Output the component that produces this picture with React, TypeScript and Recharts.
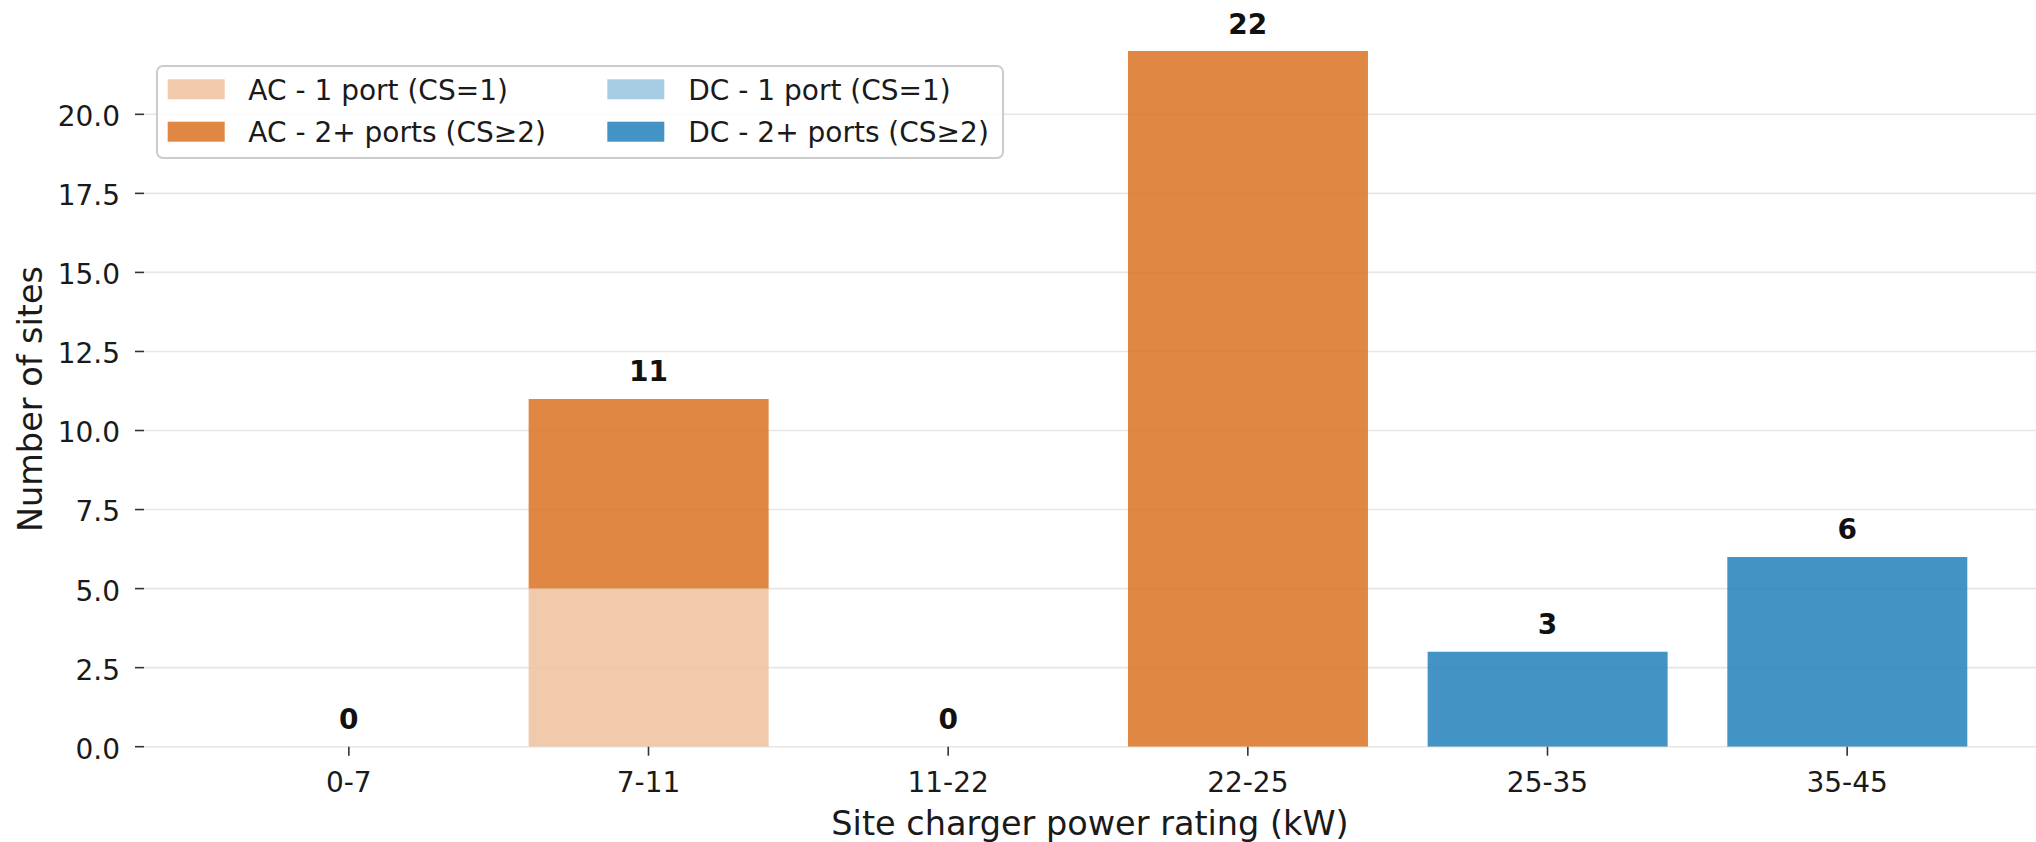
import { Bar, CartesianGrid, ComposedChart, LabelList, Legend, Line, XAxis, YAxis } from 'recharts'

const FONT = '"DejaVu Sans", Verdana, sans-serif'

const categories = ['0-7', '7-11', '11-22', '22-25', '25-35', '35-45']
const acSingle = [0, 5, 0, 0, 0, 0]
const acMulti = [0, 6, 0, 22, 0, 0]
const dcSingle = [0, 0, 0, 0, 0, 0]
const dcMulti = [0, 0, 0, 0, 3, 6]
const yTicks = [0, 2.5, 5, 7.5, 10, 12.5, 15, 17.5, 20]

// bars are drawn with some transparency, so the grid shows through a bit
const SERIES = [
  { key: 'acSingle', name: 'AC - 1 port (CS=1)', color: '#eebf9c' },
  { key: 'acMulti', name: 'AC - 2+ ports (CS\u22652)', color: '#db7322' },
  { key: 'dcSingle', name: 'DC - 1 port (CS=1)', color: '#96c4df' },
  { key: 'dcMulti', name: 'DC - 2+ ports (CS\u22652)', color: '#2281ba' },
]

const data = categories.map((category, i) => ({
  category,
  acSingle: acSingle[i],
  acMulti: acMulti[i],
  dcSingle: dcSingle[i],
  dcMulti: dcMulti[i],
  total: acSingle[i] + acMulti[i] + dcSingle[i] + dcMulti[i],
}))

function TotalLabel(props: any) {
  const { x, y, value } = props
  return (
    <text
      x={Number(x)}
      y={Number(y) - 17.5}
      textAnchor="middle"
      fontFamily={FONT}
      fontSize={28}
      fontWeight="bold"
      fill="#111"
    >
      {value}
    </text>
  )
}

function LegendBox() {
  // two columns, column-major like matplotlib's ncol=2
  return (
    <svg width={848} height={94} style={{ display: 'block' }}>
      <rect x={1} y={1} width={846} height={92} rx={6} fill="#fff" fillOpacity={0.85} stroke="#cccccc" strokeWidth={2} />
      {SERIES.map((s, i) => {
        const col = Math.floor(i / 2)
        const row = i % 2
        const px = col === 0 ? 11.7 : 451.3
        const tx = col === 0 ? 92.3 : 532.3
        return (
          <g key={s.key}>
            <rect x={px} y={14.3 + row * 42.4} width={57} height={20} fill={s.color} fillOpacity={0.85} />
            <text x={tx} y={35 + row * 42.4} fontFamily={FONT} fontSize={28} fill="#1a1a1a">
              {s.name}
            </text>
          </g>
        )
      })}
    </svg>
  )
}

export default function App() {
  return (
    <div style={{ position: 'absolute', left: 0, top: 0, width: 2036, height: 842, background: '#fff', fontFamily: FONT }}>
      <ComposedChart
        width={2036}
        height={842}
        data={data}
        margin={{ top: 16.3, right: 0, bottom: 0, left: 0 }}
        barCategoryGap="10%"
      >
        <CartesianGrid vertical={false} horizontalValues={yTicks} stroke="#e6e6e6" strokeWidth={1.6} />
        <XAxis
          dataKey="category"
          height={95.3}
          padding={{ left: 55, right: 39 }}
          axisLine={false}
          tickSize={9}
          tickMargin={16}
          tickLine={{ stroke: '#333', strokeWidth: 1.6 }}
          tick={{ fontSize: 28, fill: '#1a1a1a', fontFamily: FONT }}
          label={{
            value: 'Site charger power rating (kW)',
            content: (p: any) => (
              <text
                x={p.viewBox.x + p.viewBox.width / 2}
                y={835}
                textAnchor="middle"
                fontFamily={FONT}
                fontSize={33.5}
                fill="#1a1a1a"
              >
                Site charger power rating (kW)
              </text>
            ),
          }}
        />
        <YAxis
          width={144}
          domain={[0, 23.1]}
          ticks={yTicks}
          allowDataOverflow
          axisLine={false}
          tickSize={9}
          tickMargin={15}
          tickLine={{ stroke: '#333', strokeWidth: 1.6 }}
          tick={{ fontSize: 28, fill: '#1a1a1a', fontFamily: FONT, dy: 2 }}
          tickFormatter={(v: number) => v.toFixed(1)}
          label={{
            value: 'Number of sites',
            content: () => (
              <text
                x={41.5}
                y={399}
                transform="rotate(-90 41.5 399)"
                textAnchor="middle"
                fontFamily={FONT}
                fontSize={33.5}
                fill="#1a1a1a"
              >
                Number of sites
              </text>
            ),
          }}
        />
        <Legend
          layout="horizontal"
          verticalAlign="middle"
          align="center"
          wrapperStyle={{ left: 156, top: 65, width: 848, height: 94 }}
          content={() => <LegendBox />}
        />
        {SERIES.map((s) => (
          <Bar
            key={s.key}
            dataKey={s.key}
            name={s.name}
            stackId="sites"
            fill={s.color}
            fillOpacity={0.85}
            isAnimationActive={false}
          />
        ))}
        {/* invisible series that only carries the stack totals above each bar */}
        <Line
          dataKey="total"
          stroke="none"
          dot={false}
          activeDot={false}
          legendType="none"
          isAnimationActive={false}
        >
          <LabelList dataKey="total" content={TotalLabel} />
        </Line>
      </ComposedChart>
    </div>
  )
}
